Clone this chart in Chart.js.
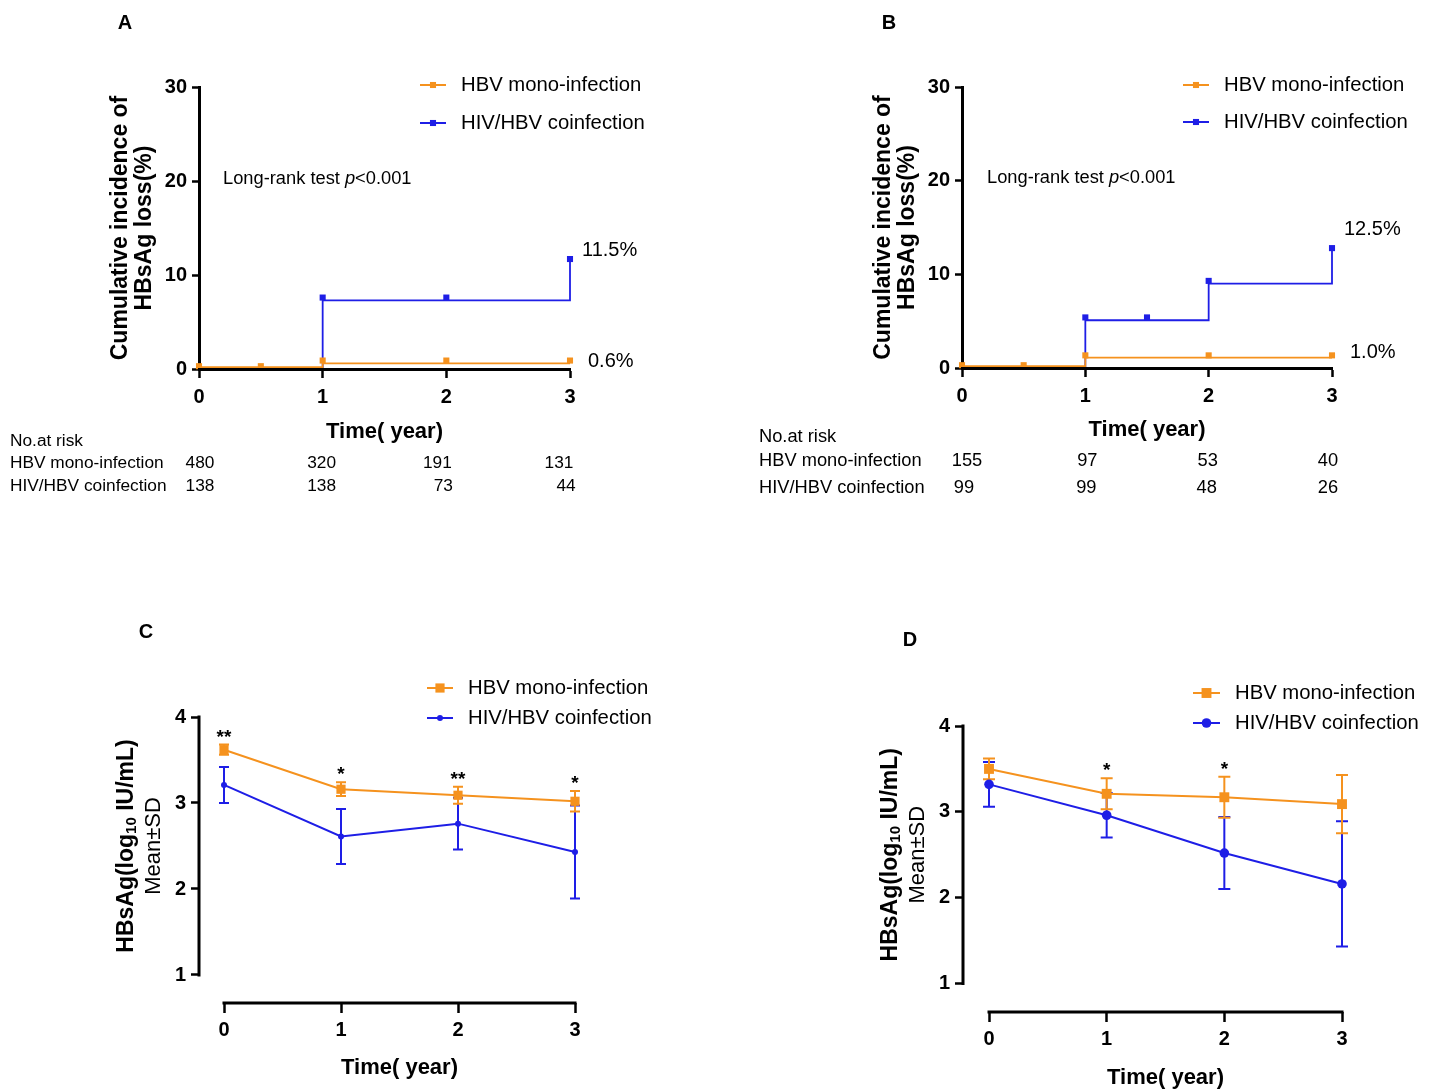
<!DOCTYPE html>
<html>
<head>
<meta charset="utf-8">
<script src="https://cdn.jsdelivr.net/npm/chart.js@4.4.1/dist/chart.umd.min.js"></script>
<style>
	body { margin: 0; background: #fff; }
	#wrap { position: relative; width: 1432px; height: 1092px; }
	canvas { position: absolute; }
</style>
</head>
<body>
<div id="wrap">
	<canvas id="chartA" width="716" height="546" style="left:0;top:0;width:716px;height:546px"></canvas>
	<canvas id="chartB" width="716" height="546" style="left:716px;top:0;width:716px;height:546px"></canvas>
	<canvas id="chartC" width="716" height="546" style="left:0;top:546px;width:716px;height:546px"></canvas>
	<canvas id="chartD" width="716" height="546" style="left:716px;top:546px;width:716px;height:546px"></canvas>
</div>
<script>
var ORANGE = '#f5921e';
var BLUE = '#1e1ee6';
var SANS = "'Liberation Sans', Arial, sans-serif";

var years = [0, 1, 2, 3];
var seriesNames = ['HBV mono-infection', 'HIV/HBV coinfection'];

// A - cumulative incidence of HBsAg loss (%)
var stepMonoA = [0.2, 0.6, 0.6, 0.6];
var stepCoA = [0, 7.3, 7.3, 11.5];
var censorTimeMonoA = [0, 0.5, 1, 2, 3];
var censorMonoA = [0.3, 0.3, 0.9, 0.9, 0.9];
var censorTimeCoA = [1, 2, 3];
var censorCoA = [7.6, 7.6, 11.7];
var riskMonoA = [480, 320, 191, 131];
var riskCoA = [138, 138, 73, 44];

// B
var stepMonoB = [0.2, 1.1, 1.1, 1.1];
var stepCoB = [0, 5.1, 9.0, 12.5];
var censorTimeMonoB = [0, 0.5, 1, 2, 3];
var censorMonoB = [0.3, 0.3, 1.35, 1.35, 1.35];
var censorTimeCoB = [1, 1.5, 2, 3];
var censorCoB = [5.4, 5.4, 9.3, 12.8];
var riskMonoB = [155, 97, 53, 40];
var riskCoB = [99, 99, 48, 26];

// C - HBsAg log10 IU/mL, mean and SD
var meanMonoC = [3.62, 3.16, 3.09, 3.02];
var sdMonoC = [0.06, 0.08, 0.10, 0.12];
var meanCoC = [3.21, 2.61, 2.76, 2.43];
var sdCoC = [0.21, 0.32, 0.30, 0.54];
var starsC = ['**', '*', '**', '*'];

// D
var meanMonoD = [3.50, 3.21, 3.17, 3.09];
var sdMonoD = [0.12, 0.18, 0.24, 0.34];
var meanCoD = [3.32, 2.96, 2.52, 2.16];
var sdCoD = [0.26, 0.26, 0.42, 0.73];
var starsD = ['', '*', '*', ''];

function pts(xs, ys) {
	return xs.map(function(x, i) { return { x: x, y: ys[i] }; });
}

function txt(ctx, s, x, y, font, align, base) {
	ctx.font = font;
	ctx.fillStyle = '#000';
	ctx.textAlign = align || 'left';
	ctx.textBaseline = base || 'middle';
	ctx.fillText(s, x, y);
}

function marker(ctx, style, x, y, r, color) {
	ctx.fillStyle = color;
	ctx.beginPath();
	if (style == 'rect') {
		var h = r * Math.SQRT1_2;
		ctx.rect(x - h, y - h, 2 * h, 2 * h);
	} else {
		ctx.arc(x, y, r, 0, Math.PI * 2);
	}
	ctx.fill();
}

function drawLegend(ctx, lg) {
	lg.items.forEach(function(it, i) {
		ctx.strokeStyle = it.color;
		ctx.lineWidth = 2;
		ctx.beginPath();
		ctx.moveTo(lg.x0, it.y);
		ctx.lineTo(lg.x1, it.y);
		ctx.stroke();
		marker(ctx, it.style, (lg.x0 + lg.x1) / 2, it.y, it.r, it.color);
		txt(ctx, seriesNames[i], lg.tx, it.y, '20.3px ' + SANS);
	});
}

// panel plugin: letter, legend, annotations
function panelPlugin(p) {
	return {
		id: 'panel' + p.letter,
		beforeDatasetsDraw: function(chart) {
			if (!p.mean) return;
			var ctx = chart.ctx, xs = chart.scales.x, ys = chart.scales.y;
			ctx.save();
			// error bars, blue first then orange
			[[p.meanCo, p.sdCo, BLUE], [p.meanMono, p.sdMono, ORANGE]].forEach(function(s) {
				ctx.strokeStyle = s[2];
				ctx.lineWidth = 2;
				years.forEach(function(t, i) {
					var x = xs.getPixelForValue(t);
					var y1 = ys.getPixelForValue(s[0][i] + s[1][i]);
					var y2 = ys.getPixelForValue(s[0][i] - s[1][i]);
					ctx.beginPath();
					ctx.moveTo(x, y1); ctx.lineTo(x, y2);
					ctx.moveTo(x - p.cap, y1); ctx.lineTo(x + p.cap, y1);
					ctx.moveTo(x - p.cap, y2); ctx.lineTo(x + p.cap, y2);
					ctx.stroke();
				});
			});
			ctx.restore();
		},
		afterDraw: function(chart) {
			var ctx = chart.ctx, xs = chart.scales.x, ys = chart.scales.y;
			var area = chart.chartArea;
			ctx.save();
			txt(ctx, p.letter, p.letterPos[0], p.letterPos[1], 'bold 20px ' + SANS, 'center');
			drawLegend(ctx, p.legend);

			if (p.mean) {
				// axes
				ctx.strokeStyle = '#000';
				ctx.lineWidth = 3;
				ctx.lineCap = 'square';
				ctx.beginPath();
				ctx.moveTo(area.left, ys.getPixelForValue(4));
				ctx.lineTo(area.left, ys.getPixelForValue(1));
				ctx.moveTo(xs.getPixelForValue(0), area.bottom);
				ctx.lineTo(xs.getPixelForValue(3), area.bottom);
				ctx.stroke();
				// stars
				p.stars.forEach(function(s, i) {
					if (!s) return;
					var y = ys.getPixelForValue(p.meanMono[i] + p.sdMono[i]) - 2;
					txt(ctx, s, xs.getPixelForValue(years[i]), y, 'bold 19px ' + SANS, 'center', 'alphabetic');
				});
				// x title
				var cx = (xs.getPixelForValue(0) + xs.getPixelForValue(3)) / 2;
				txt(ctx, 'Time( year)', cx, p.xTitleY, 'bold 22px ' + SANS, 'center');
				// y title with subscript
				var cy = (ys.getPixelForValue(1) + ys.getPixelForValue(4)) / 2;
				ctx.save();
				ctx.translate(area.left - 72.5, cy);
				ctx.rotate(-Math.PI / 2);
				var parts = [['HBsAg(log', 23, 0], ['10', 15, 5], [' IU/mL)', 23, 0]];
				var total = 0;
				parts.forEach(function(q) { ctx.font = 'bold ' + q[1] + 'px ' + SANS; q.push(ctx.measureText(q[0]).width); total += q[3]; });
				var x0 = -total / 2;
				parts.forEach(function(q) {
					txt(ctx, q[0], x0, q[2], 'bold ' + q[1] + 'px ' + SANS, 'left');
					x0 += q[3];
				});
				txt(ctx, 'Mean\u00b1SD', 0, 27, '22px ' + SANS, 'center');
				ctx.restore();
			} else {
				// long-rank text
				var lx = p.rank[0], ly = p.rank[1];
				var f1 = '18.3px ' + SANS, f2 = 'italic 18.3px ' + SANS;
				ctx.font = f1;
				var w1 = ctx.measureText('Long-rank test ').width;
				txt(ctx, 'Long-rank test ', lx, ly, f1);
				ctx.font = f2;
				var w2 = ctx.measureText('p').width;
				txt(ctx, 'p', lx + w1, ly, f2);
				txt(ctx, '<0.001', lx + w1 + w2, ly, f1);
				// end labels
				p.endLabels.forEach(function(l) {
					txt(ctx, l.text, xs.getPixelForValue(3) + l.dx, ys.getPixelForValue(l.y), '20px ' + SANS);
				});
				// number at risk
				var tf = p.tableFont + 'px ' + SANS;
				txt(ctx, 'No.at risk', p.tableX, p.tableY[0], tf);
				txt(ctx, seriesNames[0], p.tableX, p.tableY[1], tf);
				txt(ctx, seriesNames[1], p.tableX, p.tableY[2], tf);
				years.forEach(function(t, i) {
					var x = xs.getPixelForValue(t);
					txt(ctx, String(p.riskMono[i]), x + p.tableDx[0][i], p.tableY[1], tf, 'center');
					txt(ctx, String(p.riskCo[i]), x + p.tableDx[1][i], p.tableY[2], tf, 'center');
				});
			}
			ctx.restore();
		}
	};
}

var tickFont = { family: SANS, size: 20, weight: 'bold' };

function kmChart(id, p) {
	return new Chart(document.getElementById(id), {
		type: 'line',
		data: {
			datasets: [
				{ data: pts(p.censorTimeMono, p.censorMono), showLine: false, pointStyle: 'rect', pointRadius: 4.3, backgroundColor: ORANGE, borderWidth: 0, clip: false },
				{ data: pts(p.censorTimeCo, p.censorCo), showLine: false, pointStyle: 'rect', pointRadius: 4.3, backgroundColor: BLUE, borderWidth: 0, clip: false },
				{ data: pts(years, p.stepMono), borderColor: ORANGE, borderWidth: 1.8, stepped: 'before', pointRadius: 0, clip: false },
				{ data: pts(years, p.stepCo), borderColor: BLUE, borderWidth: 1.8, stepped: 'before', pointRadius: 0, clip: false }
			]
		},
		options: {
			responsive: false,
			animation: false,
			devicePixelRatio: 1,
			layout: { padding: p.pad },
			plugins: { legend: { display: false }, tooltip: { enabled: false } },
			scales: {
				x: {
					type: 'linear', min: 0, max: 3,
					afterFit: function(s) { s.height = p.xh; },
					afterBuildTicks: function(s) { s.ticks = years.map(function(v) { return { value: v }; }); },
					ticks: { color: '#000', font: tickFont, padding: 7, maxRotation: 0, autoSkip: false },
					grid: { drawOnChartArea: false, tickLength: 9, tickWidth: 2.5, tickColor: '#000' },
					border: { display: true, color: '#000', width: 3, z: 1 },
					title: { display: true, text: 'Time( year)', color: '#000', font: { family: SANS, size: 22, weight: 'bold' }, padding: 0 }
				},
				y: {
					min: 0, max: 30,
					afterFit: function(s) { s.width = 90; },
					ticks: { stepSize: 10, color: '#000', font: tickFont, padding: 5 },
					grid: { drawOnChartArea: false, tickLength: 7, tickWidth: 2.5, tickColor: '#000' },
					border: { display: true, color: '#000', width: 3 },
					title: { display: true, text: ['Cumulative incidence of', 'HBsAg loss(%)'], color: '#000', font: { family: SANS, size: 23, weight: 'bold', lineHeight: '24px' }, padding: 0 }
				}
			}
		},
		plugins: [panelPlugin(p)]
	});
}

function meanChart(id, p) {
	return new Chart(document.getElementById(id), {
		type: 'line',
		data: {
			datasets: [
				{ data: pts(years, p.meanMono), borderColor: ORANGE, backgroundColor: ORANGE, borderWidth: 2, pointStyle: 'rect', pointRadius: p.sqR, pointBorderWidth: 0, clip: false },
				{ data: pts(years, p.meanCo), borderColor: BLUE, backgroundColor: BLUE, borderWidth: 2, pointStyle: 'circle', pointRadius: p.dotR, pointBorderWidth: 0, clip: false }
			]
		},
		options: {
			responsive: false,
			animation: false,
			devicePixelRatio: 1,
			layout: { padding: p.pad },
			plugins: { legend: { display: false }, tooltip: { enabled: false } },
			scales: {
				x: {
					type: 'linear', min: p.xmin, max: 3,
					afterFit: function(s) { s.height = 60; },
					afterBuildTicks: function(s) { s.ticks = years.map(function(v) { return { value: v }; }); },
					ticks: { color: '#000', font: tickFont, padding: 5, maxRotation: 0, autoSkip: false },
					grid: { drawOnChartArea: false, tickLength: 10, tickWidth: 2.5, tickColor: '#000' },
					border: { display: false }
				},
				y: {
					min: p.ymin, max: 4,
					afterFit: function(s) { s.width = 80; },
					afterBuildTicks: function(s) { s.ticks = [1, 2, 3, 4].map(function(v) { return { value: v }; }); },
					ticks: { color: '#000', font: tickFont, padding: 5 },
					grid: { drawOnChartArea: false, tickLength: 8, tickWidth: 2.5, tickColor: '#000' },
					border: { display: false }
				}
			}
		},
		plugins: [panelPlugin(p)]
	});
}

kmChart('chartA', {
	letter: 'A', letterPos: [125, 23],
	pad: { left: 109, top: 87, right: 146, bottom: 101 }, xh: 76,
	stepMono: stepMonoA, stepCo: stepCoA,
	censorTimeMono: censorTimeMonoA, censorMono: censorMonoA,
	censorTimeCo: censorTimeCoA, censorCo: censorCoA,
	riskMono: riskMonoA, riskCo: riskCoA,
	legend: { x0: 420, x1: 446, tx: 461, items: [
		{ color: ORANGE, style: 'rect', r: 4.3, y: 85 },
		{ color: BLUE, style: 'rect', r: 4.3, y: 123 }] },
	rank: [223, 179],
	endLabels: [{ text: '11.5%', y: 12.6, dx: 12 }, { text: '0.6%', y: 0.85, dx: 18 }],
	tableX: 10, tableY: [441, 463, 486], tableFont: 17.3,
	tableDx: [[1, -1, -9, -11], [1, -1, -3, -4]]
});

kmChart('chartB', {
	letter: 'B', letterPos: [173, 23],
	pad: { left: 156, top: 87, right: 100, bottom: 103 }, xh: 75,
	stepMono: stepMonoB, stepCo: stepCoB,
	censorTimeMono: censorTimeMonoB, censorMono: censorMonoB,
	censorTimeCo: censorTimeCoB, censorCo: censorCoB,
	riskMono: riskMonoB, riskCo: riskCoB,
	legend: { x0: 467, x1: 493, tx: 508, items: [
		{ color: ORANGE, style: 'rect', r: 4.3, y: 85 },
		{ color: BLUE, style: 'rect', r: 4.3, y: 122 }] },
	rank: [271, 178],
	endLabels: [{ text: '12.5%', y: 14.8, dx: 12 }, { text: '1.0%', y: 1.7, dx: 18 }],
	tableX: 43, tableY: [437, 461, 488], tableFont: 18.3,
	tableDx: [[5, 2, -1, -4], [2, 1, -2, -4]]
});

meanChart('chartC', {
	mean: true, letter: 'C', letterPos: [146, 86],
	pad: { left: 119, top: 171, right: 141, bottom: 29 },
	xmin: -0.2137, ymin: 0.6744,
	meanMono: meanMonoC, sdMono: sdMonoC, meanCo: meanCoC, sdCo: sdCoC, stars: starsC,
	sqR: 6.5, dotR: 3, cap: 5,
	xTitleY: 522,
	legend: { x0: 427, x1: 453, tx: 468, items: [
		{ color: ORANGE, style: 'rect', r: 6.5, y: 142 },
		{ color: BLUE, style: 'circle', r: 3, y: 172 }] }
});

meanChart('chartD', {
	mean: true, letter: 'D', letterPos: [194, 94],
	pad: { left: 167, top: 180, right: 90, bottom: 20 },
	xmin: -0.221, ymin: 0.668,
	meanMono: meanMonoD, sdMono: sdMonoD, meanCo: meanCoD, sdCo: sdCoD, stars: starsD,
	sqR: 7, dotR: 4.8, cap: 6,
	xTitleY: 532,
	legend: { x0: 477, x1: 504, tx: 519, items: [
		{ color: ORANGE, style: 'rect', r: 7, y: 147 },
		{ color: BLUE, style: 'circle', r: 4.8, y: 177 }] }
});
</script>
</body>
</html>
